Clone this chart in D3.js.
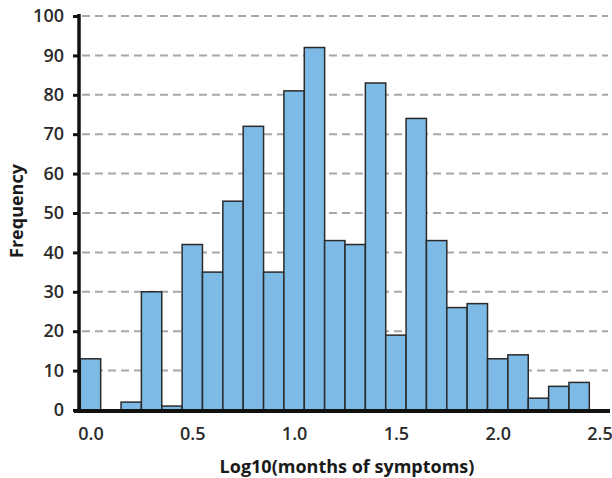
<!DOCTYPE html>
<html><head><meta charset="utf-8">
<script src="https://cdn.jsdelivr.net/npm/d3@7"></script>
<style>body{margin:0;background:#fff;} svg{display:block;}</style>
</head><body>
<script>
const binCenters = [0.0,0.1,0.2,0.3,0.4,0.5,0.6,0.7,0.8,0.9,1.0,1.1,1.2,1.3,1.4,1.5,1.6,1.7,1.8,1.9,2.0,2.1,2.2,2.3,2.4];
const frequencies = [13,0,2,30,1,42,35,53,72,35,81,92,43,42,83,19,74,43,26,27,13,14,3,6,7];
const xTicks = [0,0.5,1.0,1.5,2.0,2.5];
const yTicks = [0,10,20,30,40,50,60,70,80,90,100];
const binWidth = 0.1;

const W = 612, H = 478;
const svg = d3.select("body").append("svg").attr("width", W).attr("height", H);
const x = d3.scaleLinear().domain([0, 2.5]).range([90.5, 599.5]);
const y = d3.scaleLinear().domain([0, 100]).range([410, 16]);
const font = "'Open Sans', sans-serif";

// gridlines
svg.append("g").selectAll("line").data(yTicks.filter(d => d > 0)).join("line")
  .attr("x1", 82).attr("x2", 608)
  .attr("y1", d => y(d)).attr("y2", d => y(d))
  .attr("stroke", "#a8a8a8").attr("stroke-width", 2).attr("stroke-dasharray", "8,5");

// bars
svg.append("g").selectAll("rect").data(binCenters).join("rect")
  .attr("x", (d) => x(d - binWidth / 2))
  .attr("width", (d) => x(d + binWidth / 2) - x(d - binWidth / 2))
  .attr("y", (d, i) => y(frequencies[i]))
  .attr("height", (d, i) => y(0) - y(frequencies[i]))
  .attr("fill", "#7dbbe6").attr("stroke", "#2a2a2a").attr("stroke-width", 1.5);

// y axis
const yAxis = svg.append("g").attr("transform", "translate(79,0)")
  .call(d3.axisLeft(y).tickValues(yTicks).tickSize(6).tickPadding(9).tickFormat(d3.format("d")));
yAxis.select(".domain").attr("stroke", "#111").attr("stroke-width", 3.5).attr("d", `M0,${y(100)-2}V${y(0)}`);
yAxis.selectAll(".tick line").attr("stroke", "#111").attr("stroke-width", 3);
yAxis.selectAll(".tick text").attr("font-family", font).attr("font-size", 18).attr("font-weight", 600).attr("fill", "#2b2b2b");

// x axis
const xAxis = svg.append("g").attr("transform", "translate(0,411)")
  .call(d3.axisBottom(x).tickValues(xTicks).tickSize(0).tickPadding(16).tickFormat(d3.format(".1f")));
xAxis.select(".domain").attr("stroke", "#111").attr("stroke-width", 4).attr("d", "M74,0H610");
xAxis.selectAll(".tick text").attr("font-family", font).attr("font-size", 18).attr("font-weight", 600).attr("fill", "#2b2b2b");

// titles
svg.append("text").attr("x", 347).attr("y", 473).attr("text-anchor", "middle")
  .attr("font-family", font).attr("font-weight", "bold").attr("font-size", 18).attr("fill", "#1a1a1a")
  .text("Log10(months of symptoms)");
svg.append("text").attr("transform", "translate(23,211) rotate(-90)").attr("text-anchor", "middle")
  .attr("font-family", font).attr("font-weight", "bold").attr("font-size", 18).attr("fill", "#1a1a1a")
  .text("Frequency");
</script>
</body></html>
